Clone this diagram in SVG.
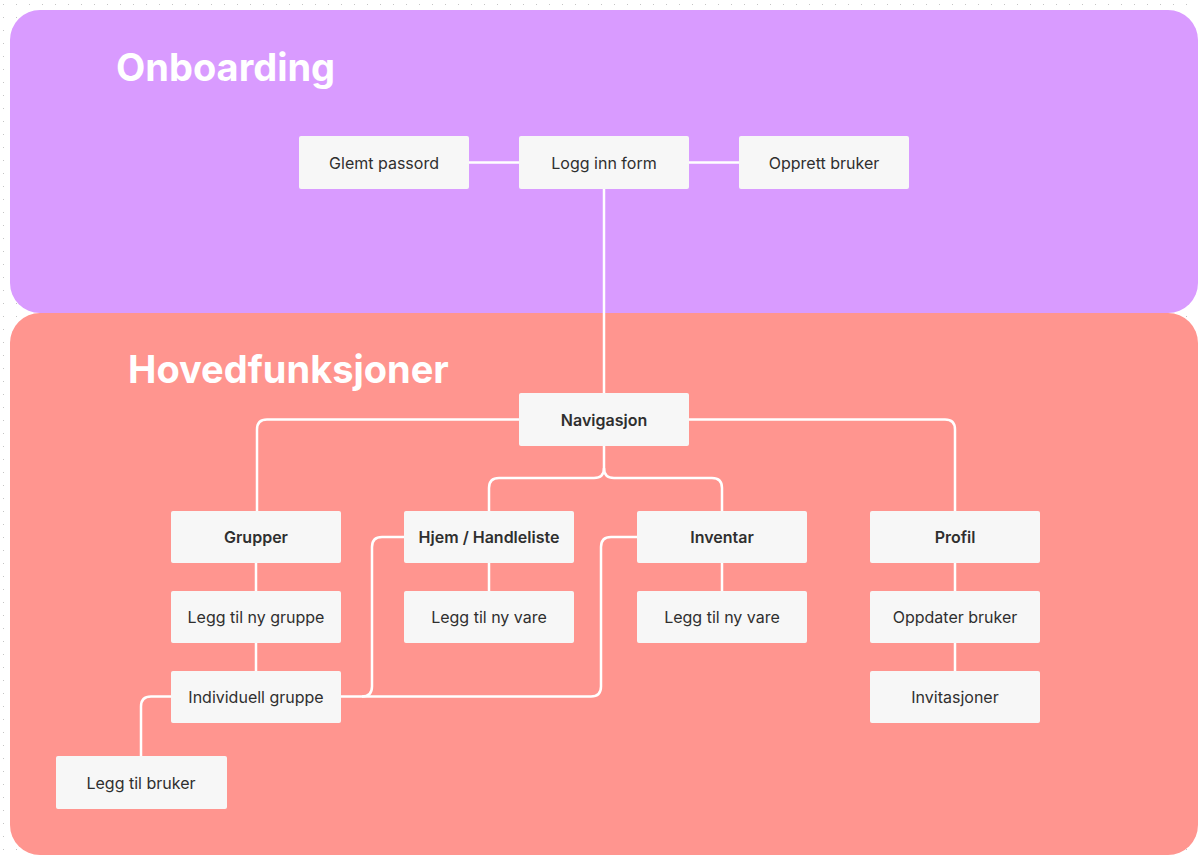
<svg xmlns="http://www.w3.org/2000/svg" width="1198" height="856" viewBox="0 0 1198 856">
  <defs>
    <pattern id="dots" x="3" y="4" width="13" height="13" patternUnits="userSpaceOnUse">
      <rect x="0" y="0" width="1" height="1" fill="#c4c4c4"/>
    </pattern>
    <style>
      .panel-title { font-family: Inter, "Liberation Sans", sans-serif; font-weight: 700; font-size: 38px; fill: #ffffff; }
      .box { fill: #f7f7f7; }
      .lbl { font-family: Inter, "Liberation Sans", sans-serif; font-size: 16px; fill: #2f2f2f; text-anchor: middle; dominant-baseline: central; }
      .lbl.b { font-weight: 600; }
      .conn { fill: none; stroke: #ffffff; stroke-width: 2.5; }
    </style>
  </defs>
  <rect x="0" y="0" width="1198" height="856" fill="#ffffff"/>
  <rect x="0" y="0" width="1198" height="856" fill="url(#dots)"/>

  <g id="panel-onboarding">
    <rect x="10" y="10" width="1188" height="303" rx="30" ry="30" fill="#d99bff"/>
    <text class="panel-title" x="116" y="81">Onboarding</text>
  </g>
  <g id="panel-hovedfunksjoner">
    <rect x="10" y="313" width="1188" height="542" rx="30" ry="30" fill="#ff958f"/>
    <text class="panel-title" x="128" y="383">Hovedfunksjoner</text>
  </g>

  <g id="connectors">
    <path class="conn" d="M469 162.5 H519"/>
    <path class="conn" d="M689 162.5 H739"/>
    <path class="conn" d="M604 189 V393"/>
    <path class="conn" d="M519 419.5 H267 Q257 419.5 257 429.5 V511"/>
    <path class="conn" d="M689 419.5 H945 Q955 419.5 955 429.5 V511"/>
    <path class="conn" d="M604 446 V468 Q604 478 594 478 H499 Q489 478 489 488 V511"/>
    <path class="conn" d="M604 468 Q604 478 614 478 H712 Q722 478 722 488 V511"/>
    <path class="conn" d="M256 563 V591"/>
    <path class="conn" d="M256 643 V671"/>
    <path class="conn" d="M489 563 V591"/>
    <path class="conn" d="M722 563 V591"/>
    <path class="conn" d="M955 563 V591"/>
    <path class="conn" d="M955 643 V671"/>
    <path class="conn" d="M171 696.5 H151 Q141 696.5 141 706.5 V756"/>
    <path class="conn" d="M341 696.5 H362 Q372 696.5 372 686.5 V547 Q372 537 382 537 H404"/>
    <path class="conn" d="M362 696.5 H591 Q601 696.5 601 686.5 V547 Q601 537 611 537 H637"/>
  </g>

  <g id="node-glemt-passord"><rect class="box" x="299" y="136" width="170" height="53" rx="2"/><text class="lbl" x="384" y="162.5">Glemt passord</text></g>
  <g id="node-logg-inn-form"><rect class="box" x="519" y="136" width="170" height="53" rx="2"/><text class="lbl" x="604" y="162.5">Logg inn form</text></g>
  <g id="node-opprett-bruker"><rect class="box" x="739" y="136" width="170" height="53" rx="2"/><text class="lbl" x="824" y="162.5">Opprett bruker</text></g>

  <g id="node-navigasjon"><rect class="box" x="519" y="393" width="170" height="53" rx="2"/><text class="lbl b" x="604" y="419.5">Navigasjon</text></g>

  <g id="node-grupper"><rect class="box" x="171" y="511" width="170" height="52" rx="2"/><text class="lbl b" x="256" y="537">Grupper</text></g>
  <g id="node-hjem"><rect class="box" x="404" y="511" width="170" height="52" rx="2"/><text class="lbl b" x="489" y="537">Hjem / Handleliste</text></g>
  <g id="node-inventar"><rect class="box" x="637" y="511" width="170" height="52" rx="2"/><text class="lbl b" x="722" y="537">Inventar</text></g>
  <g id="node-profil"><rect class="box" x="870" y="511" width="170" height="52" rx="2"/><text class="lbl b" x="955" y="537">Profil</text></g>

  <g id="node-legg-til-ny-gruppe"><rect class="box" x="171" y="591" width="170" height="52" rx="2"/><text class="lbl" x="256" y="617">Legg til ny gruppe</text></g>
  <g id="node-legg-til-ny-vare-hjem"><rect class="box" x="404" y="591" width="170" height="52" rx="2"/><text class="lbl" x="489" y="617">Legg til ny vare</text></g>
  <g id="node-legg-til-ny-vare-inventar"><rect class="box" x="637" y="591" width="170" height="52" rx="2"/><text class="lbl" x="722" y="617">Legg til ny vare</text></g>
  <g id="node-oppdater-bruker"><rect class="box" x="870" y="591" width="170" height="52" rx="2"/><text class="lbl" x="955" y="617">Oppdater bruker</text></g>

  <g id="node-individuell-gruppe"><rect class="box" x="171" y="671" width="170" height="52" rx="2"/><text class="lbl" x="256" y="697">Individuell gruppe</text></g>
  <g id="node-invitasjoner"><rect class="box" x="870" y="671" width="170" height="52" rx="2"/><text class="lbl" x="955" y="697">Invitasjoner</text></g>

  <g id="node-legg-til-bruker"><rect class="box" x="56" y="756" width="171" height="53" rx="2"/><text class="lbl" x="141" y="782.5">Legg til bruker</text></g>
</svg>
